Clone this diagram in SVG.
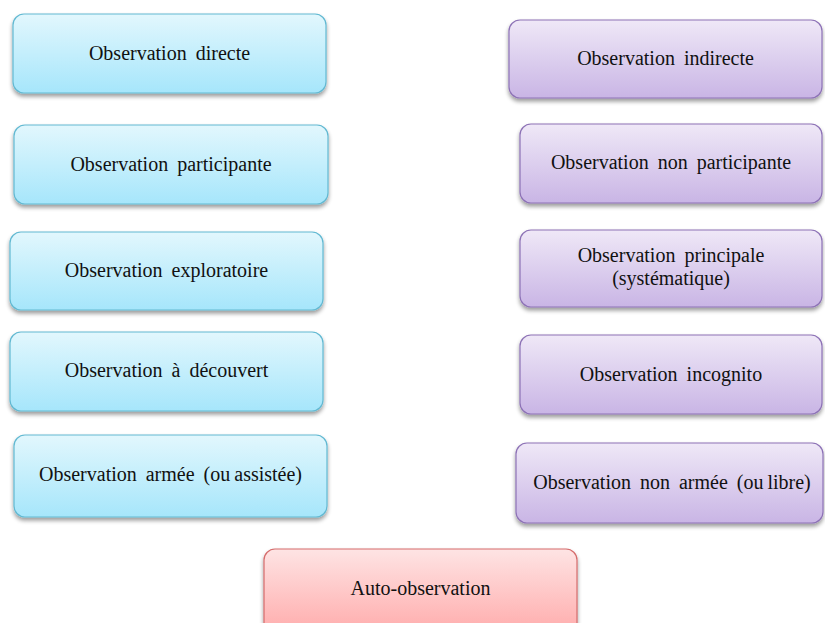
<svg xmlns="http://www.w3.org/2000/svg" width="825" height="623" viewBox="0 0 825 623">
<defs>
<linearGradient id="gc" x1="0" y1="0" x2="0" y2="1"><stop offset="0" stop-color="#e2f7fd"/><stop offset="1" stop-color="#a6e6fb"/></linearGradient>
<linearGradient id="gp" x1="0" y1="0" x2="0" y2="1"><stop offset="0" stop-color="#efe8f7"/><stop offset="1" stop-color="#c9b5e5"/></linearGradient>
<linearGradient id="gr" x1="0" y1="0" x2="0" y2="1"><stop offset="0" stop-color="#fee4e4"/><stop offset="1" stop-color="#ffa8a8"/></linearGradient>
<filter id="sh" x="-10%" y="-10%" width="120%" height="130%"><feGaussianBlur in="SourceAlpha" stdDeviation="2"/><feOffset dx="0" dy="3" result="b"/><feComponentTransfer><feFuncA type="linear" slope="0.4"/></feComponentTransfer><feMerge><feMergeNode/><feMergeNode in="SourceGraphic"/></feMerge></filter>
</defs>
<style>
.c{fill:url(#gc);stroke:#62b9d2;stroke-width:1.2;filter:url(#sh)}
.p{fill:url(#gp);stroke:#8d72b6;stroke-width:1.2;filter:url(#sh)}
.r{fill:url(#gr);stroke:#d56c6c;stroke-width:1.2;filter:url(#sh)}
text{font-family:"Liberation Serif","Times New Roman",serif;font-size:20px;fill:#111;text-anchor:middle;word-spacing:4px}
.t{word-spacing:-1px}
</style>
<rect width="825" height="623" fill="#fff"/>
<g id="n1"><rect class="c" x="13" y="14" width="313" height="79" rx="11"/><text x="169.5" y="60">Observation directe</text></g>
<g id="n2"><rect class="c" x="14" y="125" width="314" height="79" rx="11"/><text x="171" y="171">Observation participante</text></g>
<g id="n3"><rect class="c" x="10" y="232" width="313" height="78" rx="11"/><text x="166.5" y="277">Observation exploratoire</text></g>
<g id="n4"><rect class="c" x="10" y="332" width="313" height="79" rx="11"/><text x="166.5" y="377">Observation à découvert</text></g>
<g id="n5"><rect class="c" x="14" y="435" width="313" height="82" rx="11"/><text x="170.5" y="481">Observation armée <tspan class="t">(ou assistée)</tspan></text></g>
<g id="n6"><rect class="p" x="509" y="20" width="313" height="78" rx="11"/><text x="665.5" y="65">Observation indirecte</text></g>
<g id="n7"><rect class="p" x="520" y="124" width="302" height="79" rx="11"/><text x="671" y="169">Observation non participante</text></g>
<g id="n8"><rect class="p" x="520" y="230" width="302" height="77" rx="11"/><text x="671" y="262">Observation principale</text><text x="671" y="285">(systématique)</text></g>
<g id="n9"><rect class="p" x="520" y="335" width="302" height="79" rx="11"/><text x="671" y="381">Observation incognito</text></g>
<g id="n10"><rect class="p" x="516" y="443" width="307" height="80" rx="11"/><text x="672" y="489">Observation non armée <tspan class="t">(ou libre)</tspan></text></g>
<g id="n11"><rect class="r" x="264" y="549" width="313" height="90" rx="11"/><text x="420.5" y="595">Auto-observation</text></g>
<g id="connectors"></g>
</svg>
